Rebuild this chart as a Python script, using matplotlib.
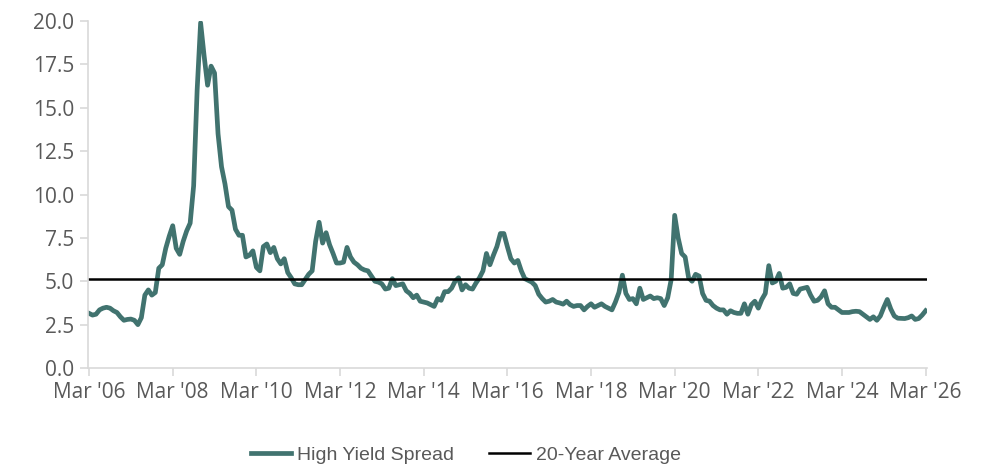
import numpy as np
import pandas as pd
import matplotlib
matplotlib.use("Agg")
import matplotlib.pyplot as plt

# monthly high yield spread, Mar 2006 - Mar 2026
spread = [
    3.15, 3.05, 3.10, 3.35, 3.45, 3.50, 3.45, 3.30, 3.20, 2.95,            # 2006 Mar-Dec
    2.75, 2.80, 2.82, 2.75, 2.50, 2.90, 4.20, 4.50, 4.20, 4.35, 5.75, 5.95,  # 2007
    6.90, 7.60, 8.20, 6.90, 6.55, 7.30, 7.90, 8.35, 10.5, 16.0, 19.9, 18.0,  # 2008
    16.3, 17.4, 17.0, 13.5, 11.6, 10.6, 9.30, 9.10, 8.00, 7.65, 7.65, 6.40,  # 2009
    6.50, 6.75, 5.80, 5.60, 7.00, 7.15, 6.65, 6.95, 6.30, 6.00, 6.30, 5.50,  # 2010
    5.20, 4.85, 4.80, 4.80, 5.10, 5.40, 5.60, 7.30, 8.40, 7.20, 7.80, 7.10,  # 2011
    6.60, 6.05, 6.05, 6.10, 6.95, 6.40, 6.10, 5.95, 5.75, 5.65, 5.60, 5.30,  # 2012
    5.00, 4.95, 4.85, 4.55, 4.60, 5.15, 4.75, 4.80, 4.85, 4.45, 4.30, 4.05,  # 2013
    4.20, 3.85, 3.80, 3.75, 3.65, 3.55, 4.00, 3.90, 4.40, 4.40, 4.60, 5.00,  # 2014
    5.20, 4.50, 4.80, 4.60, 4.55, 4.90, 5.20, 5.60, 6.60, 5.95, 6.50, 7.00,  # 2015
    7.75, 7.75, 7.00, 6.30, 6.05, 6.20, 5.60, 5.15, 5.05, 4.95, 4.75, 4.25,  # 2016
    4.00, 3.80, 3.85, 3.95, 3.80, 3.75, 3.68, 3.85, 3.65, 3.55, 3.60, 3.60,  # 2017
    3.35, 3.55, 3.70, 3.50, 3.60, 3.70, 3.55, 3.45, 3.35, 3.80, 4.35, 5.35,  # 2018
    4.30, 3.95, 4.00, 3.70, 4.60, 3.95, 4.05, 4.15, 4.00, 4.05, 4.00, 3.60,  # 2019
    4.05, 5.10, 8.80, 7.50, 6.60, 6.40, 5.20, 5.00, 5.40, 5.30, 4.30, 3.90,  # 2020
    3.85, 3.60, 3.45, 3.35, 3.35, 3.10, 3.30, 3.20, 3.15, 3.15, 3.70, 3.10,  # 2021
    3.65, 3.85, 3.45, 3.95, 4.30, 5.90, 4.90, 5.00, 5.45, 4.60, 4.65, 4.85,  # 2022
    4.30, 4.25, 4.55, 4.60, 4.65, 4.20, 3.85, 3.90, 4.10, 4.45, 3.70, 3.50,  # 2023
    3.50, 3.35, 3.20, 3.20, 3.20, 3.25, 3.27, 3.25, 3.10, 2.95, 2.80, 2.95,  # 2024
    2.75, 3.00, 3.50, 3.95, 3.40, 3.00, 2.87, 2.86, 2.85, 2.90, 3.00, 2.80,  # 2025
    2.85, 3.05, 3.30,                                                      # 2026 Jan-Mar
]
avg_20y = 5.15

tick_years = list(range(2006, 2027, 2))
tick_labels = ["Mar '%02d" % (y % 100) for y in tick_years]

teal = "#41736f"
grey_txt = "#595959"
grey_ax = "#d9d9d9"

fig = plt.figure(figsize=(9.89, 4.65), dpi=100)
ax = fig.add_axes([0.089, 0.2086, 0.848, 0.7462])

x = np.arange(len(spread))
ax.plot(x, spread, color=teal, lw=3.4, solid_joinstyle="round", label="High Yield Spread")
ax.plot([x[0], x[-1]], [avg_20y, avg_20y], color="black", lw=1.8, label="20-Year Average")

ax.set_ylim(0, 20)
ax.set_xlim(-0.3, len(spread) - 0.7)
ax.set_yticks(np.arange(0, 20.1, 2.5))
ax.set_yticklabels(["%.1f" % v for v in np.arange(0, 20.1, 2.5)])
ax.set_xticks([(y - 2006) * 12 for y in tick_years])
ax.set_xticklabels(tick_labels)

for s in ["top", "right"]:
    ax.spines[s].set_visible(False)
for s in ["left", "bottom"]:
    ax.spines[s].set_color(grey_ax)
    ax.spines[s].set_linewidth(1.2)
ax.tick_params(axis="both", colors=grey_ax, length=6, width=1.2, labelcolor=grey_txt,
               labelsize=15)
ax.tick_params(axis="y", pad=4)
ax.tick_params(axis="x", pad=4)
for lab in ax.get_xticklabels() + ax.get_yticklabels():
    lab.set_fontfamily("Open Sans")

leg = fig.legend(loc="lower center", bbox_to_anchor=(0.471, -0.035), ncol=2, frameon=False,
                 prop={"family": "Liberation Sans", "size": 14}, handlelength=2.1,
                 handletextpad=0.3, columnspacing=1.8)
for t in leg.get_texts():
    t.set_color(grey_txt)

fig.savefig("out.png", dpi=100)
